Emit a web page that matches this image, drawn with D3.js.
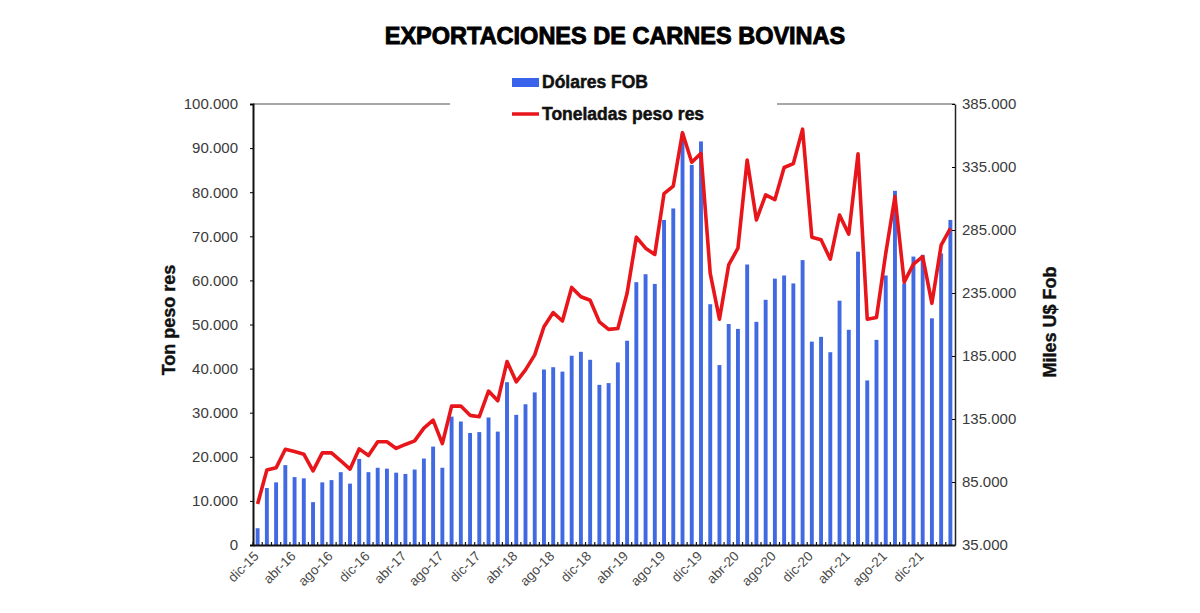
<!DOCTYPE html>
<html lang="es">
<head>
  <meta charset="UTF-8">
  <title>Exportaciones de carnes bovinas</title>
  <script src="https://d3js.org/d3.v7.min.js"></script>
  <style>
    body { margin: 0; background: #fff; }
    svg { font-family: "Liberation Sans", Arial, sans-serif; }
  </style>
</head>
<body>
<script>
  // meses (dic-15 a mar-22)
  const meses = [
    "dic-15",
    "ene-16", "feb-16", "mar-16", "abr-16", "may-16", "jun-16", "jul-16", "ago-16", "sep-16", "oct-16", "nov-16", "dic-16",
    "ene-17", "feb-17", "mar-17", "abr-17", "may-17", "jun-17", "jul-17", "ago-17", "sep-17", "oct-17", "nov-17", "dic-17",
    "ene-18", "feb-18", "mar-18", "abr-18", "may-18", "jun-18", "jul-18", "ago-18", "sep-18", "oct-18", "nov-18", "dic-18",
    "ene-19", "feb-19", "mar-19", "abr-19", "may-19", "jun-19", "jul-19", "ago-19", "sep-19", "oct-19", "nov-19", "dic-19",
    "ene-20", "feb-20", "mar-20", "abr-20", "may-20", "jun-20", "jul-20", "ago-20", "sep-20", "oct-20", "nov-20", "dic-20",
    "ene-21", "feb-21", "mar-21", "abr-21", "may-21", "jun-21", "jul-21", "ago-21", "sep-21", "oct-21", "nov-21", "dic-21",
    "ene-22", "feb-22", "mar-22"
  ];

  // Dolares FOB (miles U$) - barras, eje derecho
  const dolaresFob = [
    48300,
    80200, 84700, 98400, 88900, 87900, 69000, 84700, 86500, 92800, 83700, 103300, 92800,
    96300, 95600, 92400, 91400, 94900, 103600, 113100, 96300, 136900, 133000, 123900, 124600,
    136200, 125000, 164200, 138300, 146700, 156100, 174300, 176100, 172600, 185200, 188300, 182000,
    162100, 163500, 179900, 197100, 243600, 249900, 242200, 293000, 302100, 361600, 336700, 355300,
    226100, 177800, 210400, 206500, 257600, 212100, 229600, 246400, 248900, 242600, 261100, 196400,
    200200, 188000, 228900, 205800, 267800, 165600, 197800, 248900, 316100, 242600, 263900, 265300,
    214900, 266400, 293000
  ];

  // Toneladas peso res - linea, eje izquierdo
  const toneladas = [
    9300,
    17000, 17500, 21700, 21200, 20600, 16800, 20900, 20900, 19100, 17200, 21800, 20300,
    23400, 23400, 21900, 22800, 23600, 26500, 28300, 23000, 31500, 31500, 29400, 29100,
    34900, 32700, 41600, 37000, 39700, 43100, 49500, 52700, 50800, 58400, 56300, 55500,
    50600, 48900, 49100, 57100, 69800, 67300, 65900, 79700, 81400, 93500, 86800, 88800,
    61600, 51200, 63500, 67300, 87300, 73700, 79400, 78300, 85600, 86500, 94300, 69800,
    69200, 64800, 74800, 70500, 88700, 51200, 51600, 66100, 79000, 59600, 63700, 65400,
    54800, 68000, 71800
  ];

  const ticksIzq = [0, 10000, 20000, 30000, 40000, 50000, 60000, 70000, 80000, 90000, 100000];
  const ticksDer = [35000, 85000, 135000, 185000, 235000, 285000, 335000, 385000];
  const etiquetasX = meses.filter((m, i) => i % 4 === 0);

  const W = 1200, H = 613;
  const mLeft = 253, mRight = 955, mTop = 104, mBottom = 545;

  const loc = d3.formatLocale({decimal: ",", thousands: ".", grouping: [3], currency: ["$", ""]});
  const fmt = loc.format(",d");

  const svg = d3.select("body").append("svg")
    .attr("width", W)
    .attr("height", H);

  // Escalas
  const x = d3.scaleBand()
    .domain(meses)
    .range([mLeft, mRight])
    .padding(0);

  const yIzq = d3.scaleLinear()
    .domain([0, 100000])
    .range([mBottom, mTop]);

  const yDer = d3.scaleLinear()
    .domain([35000, 385000])
    .range([mBottom, mTop]);

  // Barras
  const barW = 3.9;
  svg.append("g")
    .selectAll("rect")
    .data(dolaresFob)
    .enter()
    .append("rect")
    .attr("x", (d, i) => x(meses[i]) + x.bandwidth() / 2 - barW / 2)
    .attr("y", d => yDer(d))
    .attr("width", barW)
    .attr("height", d => yDer(35000) - yDer(d))
    .attr("fill", "#4169e1");

  // Linea
  svg.append("path")
    .datum(toneladas)
    .attr("fill", "none")
    .attr("stroke", "#e8161b")
    .attr("stroke-width", 3.6)
    .attr("stroke-linejoin", "round")
    .attr("d", d3.line()
      .x((d, i) => x(meses[i]) + x.bandwidth() / 2)
      .y(d => yIzq(d)));

  // Borde superior (interrumpido por la leyenda)
  svg.append("line")
    .attr("x1", mLeft).attr("x2", 450)
    .attr("y1", mTop).attr("y2", mTop)
    .attr("stroke", "#8a8a8a").attr("stroke-width", 1.5);
  svg.append("line")
    .attr("x1", 777).attr("x2", mRight)
    .attr("y1", mTop).attr("y2", mTop)
    .attr("stroke", "#8a8a8a").attr("stroke-width", 1.5);

  // Eje izquierdo
  const ejeIzq = svg.append("g")
    .attr("transform", `translate(${mLeft},0)`)
    .call(d3.axisLeft(yIzq).tickValues(ticksIzq).tickFormat(fmt).tickSize(3).tickPadding(12));
  ejeIzq.select(".domain").attr("stroke", "#111").attr("stroke-width", 2);
  ejeIzq.selectAll("text")
    .attr("font-size", 15)
    .attr("fill", "#3a3a3a")
    .style("font-family", "'Liberation Sans', Arial, sans-serif");

  // Eje derecho
  const ejeDer = svg.append("g")
    .attr("transform", `translate(${mRight},0)`)
    .call(d3.axisRight(yDer).tickValues(ticksDer).tickFormat(fmt).tickSizeInner(-3).tickSizeOuter(0).tickPadding(9));
  ejeDer.select(".domain").attr("stroke", "#222").attr("stroke-width", 1.5);
  ejeDer.selectAll("text")
    .attr("x", 7)
    .attr("font-size", 15)
    .attr("fill", "#3a3a3a")
    .style("font-family", "'Liberation Sans', Arial, sans-serif");

  // Eje inferior
  const ejeX = svg.append("g")
    .attr("transform", `translate(0,${mBottom})`)
    .call(d3.axisBottom(x).tickValues(etiquetasX).tickSize(0).tickPadding(0));
  ejeX.select(".domain").attr("stroke", "#111").attr("stroke-width", 2);
  ejeX.selectAll("text")
    .attr("text-anchor", "end")
    .attr("dy", 0)
    .attr("transform", "translate(2,12) rotate(-45)")
    .attr("font-size", 13.5)
    .attr("fill", "#4a4a4a")
    .style("font-family", "'Liberation Sans', Arial, sans-serif");

  // marcas mensuales en el eje inferior
  svg.append("g")
    .selectAll("line")
    .data(meses)
    .enter()
    .append("line")
    .attr("x1", d => x(d))
    .attr("x2", d => x(d))
    .attr("y1", mBottom - 3)
    .attr("y2", mBottom)
    .attr("stroke", "#111")
    .attr("stroke-width", 1.2);

  // Titulo
  svg.append("text")
    .attr("x", 615)
    .attr("y", 44)
    .attr("text-anchor", "middle")
    .attr("font-size", 23.5)
    .attr("font-weight", "bold")
    .attr("fill", "#000")
    .attr("stroke", "#000")
    .attr("stroke-width", 0.9)
    .text("EXPORTACIONES DE CARNES BOVINAS");

  // Titulos de ejes
  svg.append("text")
    .attr("transform", "translate(175,320) rotate(-90)")
    .attr("text-anchor", "middle")
    .attr("font-size", 18)
    .attr("font-weight", "bold")
    .attr("fill", "#111")
    .attr("stroke", "#111")
    .attr("stroke-width", 0.4)
    .text("Ton peso res");

  svg.append("text")
    .attr("transform", "translate(1056,322) rotate(-90)")
    .attr("text-anchor", "middle")
    .attr("font-size", 18)
    .attr("font-weight", "bold")
    .attr("fill", "#111")
    .attr("stroke", "#111")
    .attr("stroke-width", 0.4)
    .text("Miles U$ Fob");

  // Leyenda
  const leyenda = svg.append("g");
  leyenda.append("rect")
    .attr("x", 512).attr("y", 78)
    .attr("width", 27).attr("height", 9)
    .attr("fill", "#3a63ec");
  leyenda.append("text")
    .attr("x", 542).attr("y", 88)
    .attr("font-size", 17.5)
    .attr("font-weight", "bold")
    .attr("fill", "#111")
    .attr("stroke", "#111")
    .attr("stroke-width", 0.5)
    .text("Dólares FOB");
  leyenda.append("line")
    .attr("x1", 512).attr("x2", 539)
    .attr("y1", 114).attr("y2", 114)
    .attr("stroke", "#e8161b").attr("stroke-width", 3.5);
  leyenda.append("text")
    .attr("x", 542).attr("y", 120)
    .attr("font-size", 17.5)
    .attr("font-weight", "bold")
    .attr("fill", "#111")
    .attr("stroke", "#111")
    .attr("stroke-width", 0.5)
    .text("Toneladas peso res");
</script>
</body>
</html>
